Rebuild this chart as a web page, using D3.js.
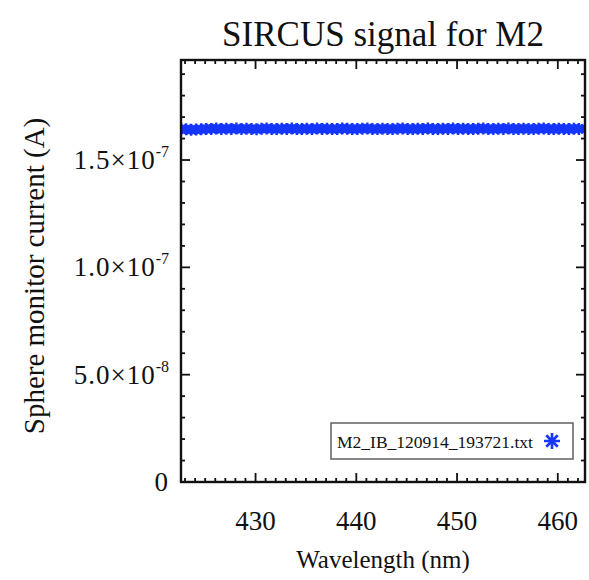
<!DOCTYPE html>
<html>
<head>
<meta charset="utf-8">
<script src="https://cdn.jsdelivr.net/npm/d3@7"></script>
<style>
  body { margin: 0; background: #fff; }
  text { font-family: "Liberation Serif", "Times New Roman", serif; fill: #111; }
</style>
</head>
<body>
<div id="chart"></div>
<script>
// wavelength (nm) of each SIRCUS sample
var wavelengths = [
  422.6, 423.1, 423.6, 424.1, 424.6, 425.1, 425.6, 426.1, 426.6, 427.1,
  427.6, 428.1, 428.6, 429.1, 429.6, 430.1, 430.6, 431.1, 431.6, 432.1,
  432.6, 433.1, 433.6, 434.1, 434.6, 435.1, 435.6, 436.1, 436.6, 437.1,
  437.6, 438.1, 438.6, 439.1, 439.6, 440.1, 440.6, 441.1, 441.6, 442.1,
  442.6, 443.1, 443.6, 444.1, 444.6, 445.1, 445.6, 446.1, 446.6, 447.1,
  447.6, 448.1, 448.6, 449.1, 449.6, 450.1, 450.6, 451.1, 451.6, 452.1,
  452.6, 453.1, 453.6, 454.1, 454.6, 455.1, 455.6, 456.1, 456.6, 457.1,
  457.6, 458.1, 458.6, 459.1, 459.6, 460.1, 460.6, 461.1, 461.6, 462.1,
  462.7
];
// sphere monitor current (A)
var current = [
  1.644e-7, 1.643e-7, 1.641e-7, 1.642e-7, 1.643e-7, 1.645e-7, 1.645e-7, 1.647e-7, 1.644e-7, 1.646e-7,
  1.645e-7, 1.647e-7, 1.644e-7, 1.646e-7, 1.645e-7, 1.643e-7, 1.646e-7, 1.647e-7, 1.645e-7, 1.644e-7,
  1.646e-7, 1.645e-7, 1.647e-7, 1.644e-7, 1.645e-7, 1.646e-7, 1.644e-7, 1.647e-7, 1.645e-7, 1.646e-7,
  1.644e-7, 1.645e-7, 1.647e-7, 1.646e-7, 1.644e-7, 1.645e-7, 1.646e-7, 1.647e-7, 1.645e-7, 1.644e-7,
  1.646e-7, 1.645e-7, 1.644e-7, 1.646e-7, 1.647e-7, 1.645e-7, 1.644e-7, 1.646e-7, 1.645e-7, 1.647e-7,
  1.645e-7, 1.644e-7, 1.646e-7, 1.645e-7, 1.647e-7, 1.644e-7, 1.646e-7, 1.645e-7, 1.644e-7, 1.646e-7,
  1.647e-7, 1.645e-7, 1.644e-7, 1.646e-7, 1.645e-7, 1.647e-7, 1.644e-7, 1.645e-7, 1.646e-7, 1.645e-7,
  1.644e-7, 1.646e-7, 1.647e-7, 1.645e-7, 1.644e-7, 1.646e-7, 1.645e-7, 1.644e-7, 1.646e-7, 1.645e-7,
  1.645e-7
];
var xTicks = [430, 440, 450, 460];
var yTicks = [0, 5e-8, 1e-7, 1.5e-7];
var yTickLabels = [["0", ""], ["5.0\u00d710", "-8"], ["1.0\u00d710", "-7"], ["1.5\u00d710", "-7"]];
var legendLabel = "M2_IB_120914_193721.txt";

var width = 589, height = 580;
var margin = {top: 60, right: 4, bottom: 98, left: 181};
var w = width - margin.left - margin.right,
    h = height - margin.top - margin.bottom;
var blue = "#1436ff";

var svg = d3.select("#chart").append("svg")
    .attr("width", width)
    .attr("height", height);

var x = d3.scaleLinear().domain(d3.extent(wavelengths)).range([0, w]);
var y = d3.scaleLinear().domain([0, 1.966e-7]).range([h, 0]);

var g = svg.append("g")
    .attr("transform", "translate(" + margin.left + "," + margin.top + ")");

svg.append("defs").append("clipPath").attr("id", "plot-clip")
    .append("rect").attr("width", w).attr("height", h);

// asterisk (IDL psym=2 style)
function star(r) {
    var d = r * 0.72;
    return "M" + (-r) + ",0L" + r + ",0M0," + (-r) + "L0," + r +
        "M" + (-d) + "," + (-d) + "L" + d + "," + d +
        "M" + (-d) + "," + d + "L" + d + "," + (-d);
}

// data
var pts = wavelengths.map(function(wl, i) { return {x: wl, y: current[i]}; });
g.append("g").attr("clip-path", "url(#plot-clip)")
    .selectAll("path")
    .data(pts)
    .enter().append("path")
    .attr("transform", function(d) { return "translate(" + x(d.x) + "," + y(d.y) + ")"; })
    .attr("d", star(6))
    .attr("stroke", blue)
    .attr("stroke-width", 2.4)
    .attr("fill", "none");

// ticks, inward, mirrored on all four sides
var xMinor = d3.range(423, 463, 1).filter(function(v) { return xTicks.indexOf(v) < 0; });
var yMinor = d3.range(1, 20).map(function(v) { return v * 1e-8; })
    .filter(function(v) { return v % 5e-8 > 1e-10 && 5e-8 - (v % 5e-8) > 1e-10; });

var ticks = g.append("g").attr("stroke", "#111").attr("stroke-width", 1.8);
function xt(vals, len) {
    vals.forEach(function(v) {
        ticks.append("line").attr("x1", x(v)).attr("x2", x(v)).attr("y1", h).attr("y2", h - len);
        ticks.append("line").attr("x1", x(v)).attr("x2", x(v)).attr("y1", 0).attr("y2", len);
    });
}
function yt(vals, len) {
    vals.forEach(function(v) {
        ticks.append("line").attr("y1", y(v)).attr("y2", y(v)).attr("x1", 0).attr("x2", len);
        ticks.append("line").attr("y1", y(v)).attr("y2", y(v)).attr("x1", w).attr("x2", w - len);
    });
}
xt(xTicks, 9); xt(xMinor, 4);
yt(yTicks, 9); yt(yMinor, 4);

// frame
g.append("rect")
    .attr("width", w).attr("height", h)
    .attr("fill", "none").attr("stroke", "#111").attr("stroke-width", 2.4);

// x tick labels
g.append("g").selectAll("text")
    .data(xTicks)
    .enter().append("text")
    .attr("x", function(d) { return x(d); })
    .attr("y", h + 48)
    .attr("text-anchor", "middle")
    .style("font-size", "27px")
    .text(function(d) { return d; });

// y tick labels with superscript exponent
yTicks.forEach(function(v, i) {
    var t = g.append("text")
        .attr("x", -12)
        .attr("y", y(v) + 9)
        .attr("text-anchor", "end")
        .style("font-size", "27px")
        .style("letter-spacing", "1px");
    t.append("tspan").text(yTickLabels[i][0]);
    if (yTickLabels[i][1]) {
        t.append("tspan").attr("dy", -12).style("font-size", "16px").style("letter-spacing", "0px")
            .text(yTickLabels[i][1]);
    }
});

// legend
var lg = g.append("g").attr("transform", "translate(" + (w - 254) + "," + (h - 59) + ")");
lg.append("rect").attr("width", 242).attr("height", 36)
    .attr("fill", "#fff").attr("stroke", "#555").attr("stroke-width", 1.4);
lg.append("text").attr("x", 6).attr("y", 25).style("font-size", "17.5px").text(legendLabel);
lg.append("path").attr("transform", "translate(221,18)").attr("d", star(8))
    .attr("stroke", blue).attr("stroke-width", 2.6).attr("fill", "none");

// titles
svg.append("text")
    .attr("x", margin.left + w / 2).attr("y", 46)
    .attr("text-anchor", "middle")
    .style("font-size", "35px")
    .text("SIRCUS signal for M2");

svg.append("text")
    .attr("x", margin.left + w / 2).attr("y", 568)
    .attr("text-anchor", "middle")
    .style("font-size", "25px")
    .text("Wavelength (nm)");

svg.append("text")
    .attr("transform", "translate(44," + 276 + ") rotate(-90)")
    .attr("text-anchor", "middle")
    .style("font-size", "29px")
    .text("Sphere monitor current (A)");
</script>
</body>
</html>
